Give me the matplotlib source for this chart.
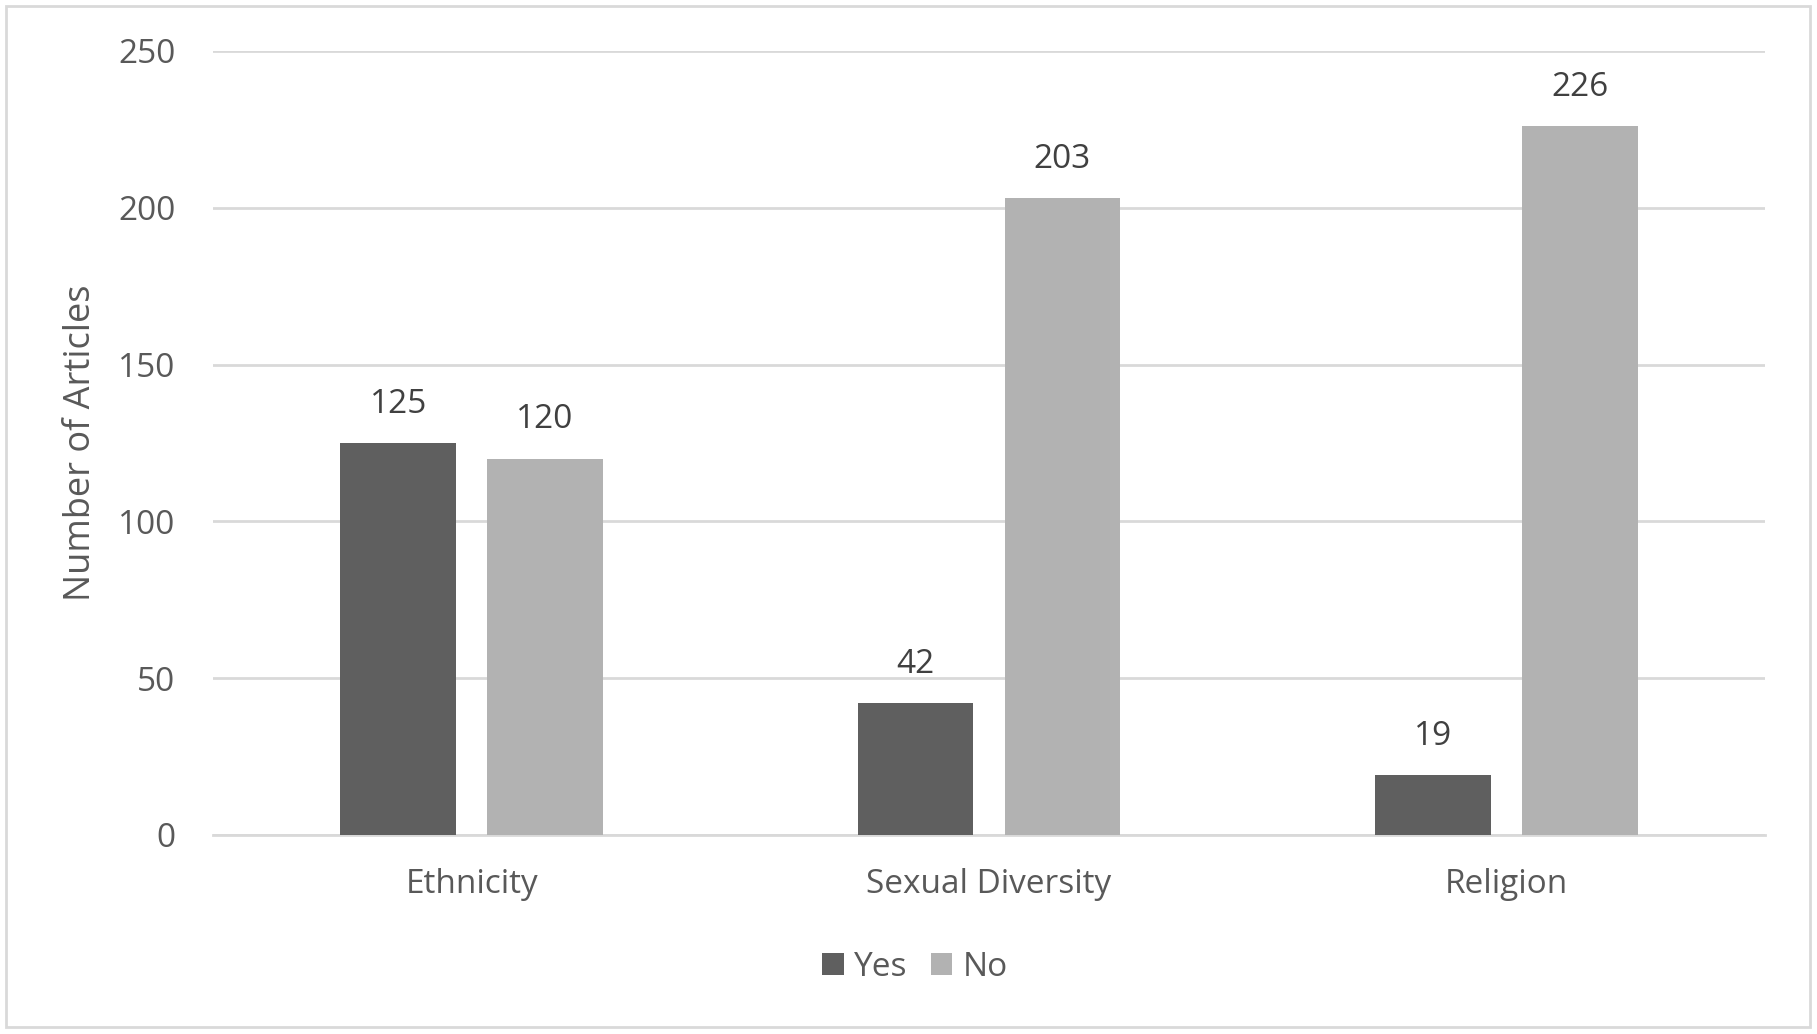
import matplotlib.pyplot as plt
import numpy as np
from matplotlib.patches import Rectangle

categories = ["Ethnicity", "Sexual Diversity", "Religion"]
yes_values = [125, 42, 19]
no_values = [120, 203, 226]
series_names = ["Yes", "No"]
y_ticks = [0, 50, 100, 150, 200, 250]

plt.rcParams['font.family'] = ['Open Sans', 'DejaVu Sans']

fig = plt.figure(figsize=(18.17, 10.34), dpi=100)
ax = fig.add_axes([0.1172, 0.1925, 0.8542, 0.7582])

x = np.arange(len(categories))
w = 0.224
off = 0.142
b1 = ax.bar(x - off, yes_values, w, color="#5f5f5f", label=series_names[0], zorder=3)
b2 = ax.bar(x + off, no_values, w, color="#b2b2b2", label=series_names[1], zorder=3)

for bars in (b1, b2):
    for r in bars:
        ax.annotate(str(int(r.get_height())), (r.get_x() + r.get_width() / 2, r.get_height()),
                    xytext=(0, 28), textcoords="offset points", ha="center", va="center",
                    fontsize=24, color="#404040")

ax.set_xlim(-0.5, 2.5)
ax.set_ylim(0, 250)
ax.set_yticks(y_ticks)
ax.set_xticks(x)
ax.set_xticklabels(categories)
ax.tick_params(axis="both", length=0, labelsize=24, colors="#595959")
ax.tick_params(axis="y", pad=27)
ax.tick_params(axis="x", pad=24)
ax.grid(axis="y", color="#d9d9d9", linewidth=2, zorder=0)
for s in ["top", "right", "left"]:
    ax.spines[s].set_visible(False)
ax.spines["bottom"].set_color("#d9d9d9")
ax.spines["bottom"].set_linewidth(2)
ax.set_ylabel("Number of Articles", fontsize=26, color="#595959", labelpad=14)

leg = fig.legend(loc="center", bbox_to_anchor=(0.5036, 0.0645), ncol=2, frameon=False,
                 fontsize=24, handlelength=0.65, handleheight=0.65, handletextpad=0.3,
                 columnspacing=0.7)
for t in leg.get_texts():
    t.set_color("#595959")

fig.patches.append(Rectangle((0.0035, 0.0068), 0.9925, 0.9874, transform=fig.transFigure,
                             fill=False, edgecolor="#d9d9d9", linewidth=2))

fig.savefig("out.png", dpi=100)
